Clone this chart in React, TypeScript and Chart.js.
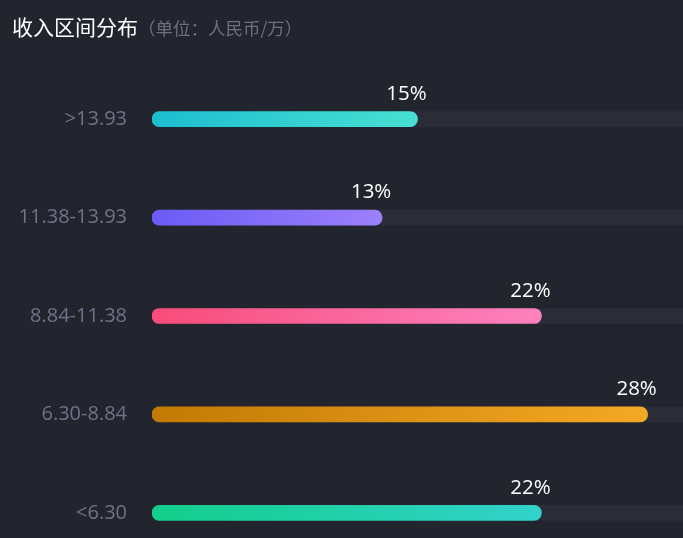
import React, { useEffect, useRef } from "react";
import { Chart, registerables } from "chart.js";

Chart.register(...registerables);

const categories = [">13.93", "11.38-13.93", "8.84-11.38", "6.30-8.84", "<6.30"];
const percentValues = [15, 13, 22, 28, 22];
const trackValues = [30, 30, 30, 30, 30];
const gradientStarts = ["#1dbdd0", "#6b5bf5", "#f84c7b", "#c27a04", "#12ce8a"];
const gradientEnds = ["#47e0d2", "#9c80fc", "#fd82bf", "#f4a824", "#32d2cb"];
const titleText = "收入区间分布";
const subtitleText = "（单位：人民币/万）";

const BG = "#22252e";

const labelPlugin = {
  id: "pctLabels",
  afterDatasetsDraw(chart: any) {
    const meta = chart.getDatasetMeta(1);
    const c = chart.ctx;
    c.save();
    c.font = '20.5px "Open Sans", sans-serif';
    c.fillStyle = "#ffffff";
    c.textAlign = "center";
    c.textBaseline = "middle";
    meta.data.forEach((el: any, i: number) => {
      c.fillText(percentValues[i] + "%", el.x - 11, el.y - 25);
    });
    c.restore();
  },
};

export default function App() {
  const ref = useRef<HTMLCanvasElement>(null);

  useEffect(() => {
    document.body.style.margin = "0";
    document.body.style.background = BG;
    document.documentElement.style.background = BG;
    const canvas = ref.current!;
    const chart = new Chart(canvas, {
      type: "bar",
      data: {
        labels: categories,
        datasets: [
          {
            data: trackValues,
            backgroundColor: "#2a2d36",
            borderRadius: { topLeft: 8, bottomLeft: 8, topRight: 0, bottomRight: 0 },
            borderSkipped: false,
            barThickness: 15,
            grouped: false,
            order: 2,
          },
          {
            data: percentValues,
            backgroundColor: (ctx: any) => {
              const chart = ctx.chart;
              const i = ctx.dataIndex;
              const xs = chart.scales?.x;
              if (!chart.chartArea || !xs || i === undefined) return gradientStarts[i ?? 0];
              const x0 = xs.getPixelForValue(0);
              const x1 = xs.getPixelForValue(percentValues[i]);
              const g = chart.ctx.createLinearGradient(x0, 0, x1, 0);
              g.addColorStop(0, gradientStarts[i]);
              g.addColorStop(1, gradientEnds[i]);
              return g;
            },
            borderRadius: 8,
            borderSkipped: false,
            barThickness: 15,
            grouped: false,
            order: 1,
          },
        ],
      },
      options: {
        indexAxis: "y",
        responsive: false,
        animation: false,
        layout: { padding: { top: 70, bottom: 0, left: 0, right: 0 } },
        plugins: {
          legend: { display: false },
          tooltip: { enabled: false },
          title: { display: false },
        },
        scales: {
          x: {
            display: false,
            min: 0,
            max: 30,
          },
          y: {
            grid: { display: false, drawTicks: false },
            border: { display: false },
            ticks: {
              color: "#6e7389",
              padding: 25,
              font: { family: '"Open Sans", sans-serif', size: 20 },
            },
            afterFit(scale: any) {
              scale.width = 152;
              scale.paddingTop = 0;
              scale.paddingBottom = 0;
            },
          },
        },
      },
      plugins: [labelPlugin],
    } as any);
    return () => chart.destroy();
  }, []);

  return (
    <div style={{ position: "relative", width: 683, height: 538, overflow: "hidden", background: BG }}>
      <canvas ref={ref} width={683} height={562} style={{ position: "absolute", left: 0, top: 0 }} />
      <div
        style={{
          position: "absolute",
          left: 12,
          top: 11,
          height: 30,
          lineHeight: "30px",
          whiteSpace: "nowrap",
          fontFamily: '"Noto Sans CJK SC", sans-serif',
        }}
      >
        <span style={{ color: "#ffffff", fontSize: 21 }}>{titleText}</span>
        <span style={{ color: "#6c7083", fontSize: 17.5 }}>{subtitleText}</span>
      </div>
    </div>
  );
}
